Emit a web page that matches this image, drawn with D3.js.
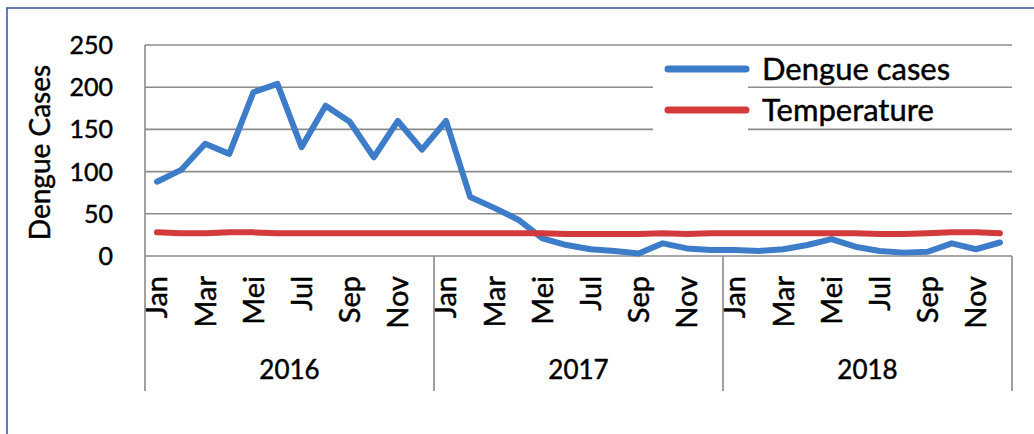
<!DOCTYPE html>
<html>
<head>
<meta charset="utf-8">
<script src="https://cdn.jsdelivr.net/npm/d3@7"></script>
<style>
  html, body { margin: 0; padding: 0; background: #fff; }
  svg { display: block; }
  text { font-family: Lato, "Open Sans", "Liberation Sans", sans-serif; fill: #000; stroke: #000; stroke-width: 0.45px; }
</style>
</head>
<body>
<svg id="chart" width="1034" height="434"></svg>
<script>
// ---- data ----
const years = ["2016", "2017", "2018"];
const months = ["Jan", "Feb", "Mar", "Apr", "Mei", "Jun", "Jul", "Agu", "Sep", "Okt", "Nov", "Des"];
const dengue2016 = [88, 102, 133, 121, 194, 204, 129, 178, 159, 117, 160, 126];
const dengue2017 = [160, 70, 57, 43, 21, 13, 8, 6, 3, 15, 9, 7];
const dengue2018 = [7, 6, 8, 13, 20, 11, 6, 4, 5, 15, 8, 16];
const temp2016 = [28, 27, 27, 28, 28, 27, 27, 27, 27, 27, 27, 27];
const temp2017 = [27, 27, 27, 27, 27, 26, 26, 26, 26, 27, 26, 27];
const temp2018 = [27, 27, 27, 27, 27, 27, 26, 26, 27, 28, 28, 27];
const yTicks = [0, 50, 100, 150, 200, 250];
const seriesNames = ["Dengue cases", "Temperature"];
const seriesColors = ["#3d7cc9", "#d23a3b"];

(function () {
// ---- build rows ----
const dengue = [...dengue2016, ...dengue2017, ...dengue2018];
const temp = [...temp2016, ...temp2017, ...temp2018];
const keys = [];
years.forEach(yr => months.forEach(m => keys.push(yr + "-" + m)));
const rows = keys.map((k, i) => ({ key: k, month: months[i % 12], year: years[Math.floor(i / 12)], idx: i, dengue: dengue[i], temp: temp[i] }));

const svg = d3.select("#chart");
const pL = 145, pR = 1012, pT = 45, pB = 256, axisBottom = 391;

const x = d3.scaleBand().domain(keys).range([pL, pR]).padding(0);
const y = d3.scaleLinear().domain([0, 250]).range([pB, pT]);
const cx = k => x(k) + x.bandwidth() / 2;

// frame
svg.append("rect").attr("x", 7).attr("y", 8).attr("width", 1040).attr("height", 440)
  .attr("fill", "none").attr("stroke", "#3c5d9c").attr("stroke-width", 1.6);

const gridColor = "#8a8a8a";
// gridlines
svg.append("g").selectAll("line").data(yTicks).join("line")
  .attr("x1", pL).attr("x2", pR)
  .attr("y1", d => y(d)).attr("y2", d => y(d))
  .attr("stroke", gridColor).attr("stroke-width", 1.6);

// left axis line
svg.append("line").attr("x1", pL).attr("x2", pL).attr("y1", pT).attr("y2", axisBottom)
  .attr("stroke", gridColor).attr("stroke-width", 1.6);

// year dividers
const yearEdges = years.map(yr => x(yr + "-Jan")).slice(1).concat([pR]);
svg.append("g").selectAll("line").data(yearEdges).join("line")
  .attr("x1", d => d).attr("x2", d => d).attr("y1", pB).attr("y2", axisBottom)
  .attr("stroke", gridColor).attr("stroke-width", 1.6);

// y tick labels
svg.append("g").selectAll("text").data(yTicks).join("text")
  .attr("x", 113).attr("y", d => y(d)).attr("dy", "0.36em")
  .attr("text-anchor", "end").attr("font-size", 25).text(d => d);

// y title
svg.append("text").attr("transform", `translate(50,${(pT + pB) / 2 + 2}) rotate(-90)`)
  .attr("text-anchor", "middle").attr("font-size", 28).text("Dengue Cases");

// month labels (every other)
svg.append("g").selectAll("text").data(rows.filter(r => r.idx % 2 === 0)).join("text")
  .attr("transform", r => `translate(${cx(r.key)},276) rotate(-90)`)
  .attr("dy", "0.36em").attr("text-anchor", "end").attr("font-size", 29).text(r => r.month);

// year labels
svg.append("g").selectAll("text").data(years).join("text")
  .attr("x", yr => (x(yr + "-Jan") + x(yr + "-Des") + x.bandwidth()) / 2)
  .attr("y", 370).attr("dy", "0.36em").attr("text-anchor", "middle").attr("font-size", 26).text(yr => yr);

// legend background
svg.append("rect").attr("x", 653).attr("y", 50).attr("width", 95).attr("height", 84).attr("fill", "#fff");

// lines
const lineD = d3.line().x(r => cx(r.key)).y(r => y(r.dengue));
const lineT = d3.line().x(r => cx(r.key)).y(r => y(r.temp));
svg.append("path").datum(rows).attr("d", lineD).attr("fill", "none")
  .attr("stroke", seriesColors[0]).attr("stroke-width", 6).attr("stroke-linejoin", "round").attr("stroke-linecap", "round");
svg.append("path").datum(rows).attr("d", lineT).attr("fill", "none")
  .attr("stroke", seriesColors[1]).attr("stroke-width", 6).attr("stroke-linejoin", "round").attr("stroke-linecap", "round");

// legend
const lg = svg.append("g").selectAll("g").data(seriesNames).join("g")
  .attr("transform", (d, i) => `translate(0,${69 + i * 41})`);
lg.append("line").attr("x1", 668).attr("x2", 746).attr("y1", 0).attr("y2", 0)
  .attr("stroke", (d, i) => seriesColors[i]).attr("stroke-width", 7).attr("stroke-linecap", "round");
lg.append("text").attr("x", 762).attr("y", 0).attr("dy", "0.36em").attr("font-size", 31).text(d => d);
})();
</script>
</body>
</html>
